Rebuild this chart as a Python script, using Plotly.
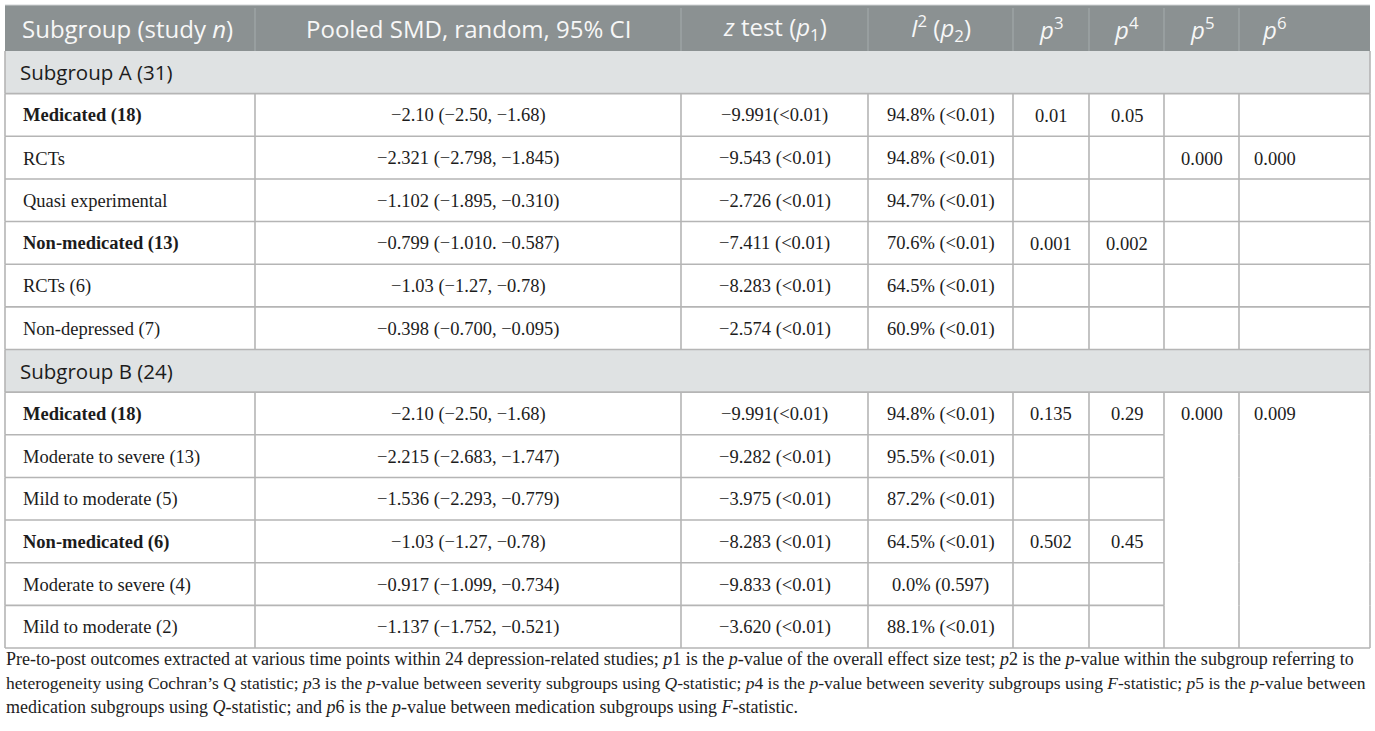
import plotly.graph_objects as go

# ---------------- data ----------------
header = [
    "Subgroup (study <i>n</i>)",
    "Pooled SMD, random, 95% CI",
    "<i>z</i> test (<i>p</i><sub>1</sub>)",
    "<i>I</i><sup>2</sup> (<i>p</i><sub>2</sub>)",
    "<i>p</i><sup>3</sup>",
    "<i>p</i><sup>4</sup>",
    "<i>p</i><sup>5</sup>",
    "<i>p</i><sup>6</sup>",
]

sections = ["Subgroup A (31)", "Subgroup B (24)"]

labels = [
    ["Medicated (18)", "RCTs", "Quasi experimental",
     "Non-medicated (13)", "RCTs (6)", "Non-depressed (7)"],
    ["Medicated (18)", "Moderate to severe (13)", "Mild to moderate (5)",
     "Non-medicated (6)", "Moderate to severe (4)", "Mild to moderate (2)"],
]
level = [[0, 1, 1, 0, 1, 1], [0, 1, 1, 0, 1, 1]]

smd = [
    ["−2.10 (−2.50, −1.68)", "−2.321 (−2.798, −1.845)", "−1.102 (−1.895, −0.310)",
     "−0.799 (−1.010. −0.587)", "−1.03 (−1.27, −0.78)", "−0.398 (−0.700, −0.095)"],
    ["−2.10 (−2.50, −1.68)", "−2.215 (−2.683, −1.747)", "−1.536 (−2.293, −0.779)",
     "−1.03 (−1.27, −0.78)", "−0.917 (−1.099, −0.734)", "−1.137 (−1.752, −0.521)"],
]
ztest = [
    ["−9.991(<0.01)", "−9.543 (<0.01)", "−2.726 (<0.01)",
     "−7.411 (<0.01)", "−8.283 (<0.01)", "−2.574 (<0.01)"],
    ["−9.991(<0.01)", "−9.282 (<0.01)", "−3.975 (<0.01)",
     "−8.283 (<0.01)", "−9.833 (<0.01)", "−3.620 (<0.01)"],
]
i2 = [
    ["94.8% (<0.01)", "94.8% (<0.01)", "94.7% (<0.01)",
     "70.6% (<0.01)", "64.5% (<0.01)", "60.9% (<0.01)"],
    ["94.8% (<0.01)", "95.5% (<0.01)", "87.2% (<0.01)",
     "64.5% (<0.01)", "0.0% (0.597)", "88.1% (<0.01)"],
]
p3 = [["0.01", "", "", "0.001", "", ""], ["0.135", "", "", "0.502", "", ""]]
p4 = [["0.05", "", "", "0.002", "", ""], ["0.29", "", "", "0.45", "", ""]]
p5 = [["", "0.000", "", "", "", ""], ["0.000", "", "", "", "", ""]]
p6 = [["", "0.000", "", "", "", ""], ["0.009", "", "", "", "", ""]]

footnote = [
    "Pre-to-post outcomes extracted at various time points within 24 depression-related studies; "
    "<i>p</i>1 is the <i>p</i>-value of the overall effect size test; <i>p</i>2 is the <i>p</i>-value "
    "within the subgroup referring to",
    "heterogeneity using Cochran’s Q statistic; <i>p</i>3 is the <i>p</i>-value between severity subgroups "
    "using <i>Q</i>-statistic; <i>p</i>4 is the <i>p</i>-value between severity subgroups using "
    "<i>F</i>-statistic; <i>p</i>5 is the <i>p</i>-value between",
    "medication subgroups using <i>Q</i>-statistic; and <i>p</i>6 is the <i>p</i>-value between "
    "medication subgroups using <i>F</i>-statistic.",
]

# ---------------- layout / style ----------------
W, H = 1375, 731
col_edges = [5, 255, 681, 868, 1013, 1089, 1164, 1239, 1370]
header_top, header_bot = 5, 51
table_bot = 648
n_rows = sum(1 + len(b) for b in labels)
row_h = (table_bot - header_bot) / n_rows

HEADER_FILL = "#8b9192"
HEADER_SEP = "#a2a8a9"
SECTION_FILL = "#dfe2e3"
LINE = "#b5b5b5"
TEXT = "#1c1c1c"
SANS = "Open Sans"
SERIF = "Liberation Serif"
FOOT_SIZES = [18, 17.5, 18]

# merged cells (no horizontal rules) in block B for columns p5, p6 below first row
merged = {(1, r): [6, 7] for r in range(1, 6)}

shapes = []
ann = []


def hline(x0, x1, y, color=LINE, w=1.6):
    shapes.append(dict(type="line", xref="x", yref="y", x0=x0, x1=x1, y0=y, y1=y,
                       line=dict(color=color, width=w), layer="above"))


def vline(x, y0, y1, color=LINE, w=1.6):
    shapes.append(dict(type="line", xref="x", yref="y", x0=x, x1=x, y0=y0, y1=y1,
                       line=dict(color=color, width=w), layer="above"))


def rect(x0, x1, y0, y1, fill):
    shapes.append(dict(type="rect", xref="x", yref="y", x0=x0, x1=x1, y0=y0, y1=y1,
                       fillcolor=fill, line=dict(width=0), layer="below"))


def text(x, y, s, size, family, color=TEXT, anchor="center"):
    ann.append(dict(x=x, y=y, xref="x", yref="y", text=s, showarrow=False,
                    xanchor=anchor, yanchor="middle",
                    font=dict(size=size, family=family, color=color)))


def cell_x(ci):
    if ci == 0:
        return col_edges[0] + 16, "left"
    if ci == 7:
        return col_edges[7] + 13, "left"
    return (col_edges[ci] + col_edges[ci + 1]) / 2, "center"


# header
rect(col_edges[0], col_edges[-1], header_top, header_bot, HEADER_FILL)
hline(col_edges[0], col_edges[-1], header_top, color="#d0d3d4", w=1)
for ci, h in enumerate(header):
    x, a = cell_x(ci)
    if ci == 0:
        x = col_edges[0] + 15
    if ci == 7:
        x = col_edges[7] + 21
    text(x, (header_top + header_bot) / 2, h, 24, SANS, color="#f7f7f7", anchor=a)
for e in col_edges[1:-1]:
    vline(e, header_top + 3, header_bot, color=HEADER_SEP, w=1.2)

# body
y = header_bot
for b, sec in enumerate(sections):
    rect(col_edges[0], col_edges[-1], y, y + row_h, SECTION_FILL)
    text(col_edges[0] + 13, y + row_h / 2, sec, 20.5, SANS, anchor="left")
    hline(col_edges[0], col_edges[-1], y + row_h)
    vline(col_edges[0], y, y + row_h)
    vline(col_edges[-1], y, y + row_h)
    y += row_h
    for r in range(len(labels[b])):
        vals = [labels[b][r], smd[b][r], ztest[b][r], i2[b][r],
                p3[b][r], p4[b][r], p5[b][r], p6[b][r]]
        for ci, v in enumerate(vals):
            if not v:
                continue
            x, a = cell_x(ci)
            s = f"<b>{v}</b>" if (ci == 0 and level[b][r] == 0) else v
            text(x, y + row_h / 2 + 1, s, 18.5, SERIF, anchor=a)
        for e in col_edges:
            vline(e, y, y + row_h)
        # bottom rule (skip merged cell spans)
        skip_next = merged.get((b, r + 1), []) if r + 1 < len(labels[b]) else []
        for ci in range(len(col_edges) - 1):
            if ci in skip_next:
                continue
            hline(col_edges[ci], col_edges[ci + 1], y + row_h)
        y += row_h

# footnote
for k, line in enumerate(footnote):
    ann.append(dict(x=col_edges[0] - 1, y=659 + 24 * k, xref="x", yref="y", text=line,
                    showarrow=False, xanchor="left", yanchor="middle",
                    font=dict(size=FOOT_SIZES[k], family=SERIF, color="#222222")))

fig = go.Figure(go.Scatter(x=[0], y=[0], mode="markers", marker=dict(opacity=0),
                           hoverinfo="skip", showlegend=False))
fig.update_layout(
    width=W, height=H, margin=dict(l=0, r=0, t=0, b=0),
    paper_bgcolor="white", plot_bgcolor="white",
    xaxis=dict(range=[0, W], visible=False, fixedrange=True),
    yaxis=dict(range=[H, 0], visible=False, fixedrange=True),
    shapes=shapes, annotations=ann,
)
fig.write_html("out.html", config={"displayModeBar": False},
               post_script="document.body.style.margin='0';document.body.style.overflow='hidden';")
